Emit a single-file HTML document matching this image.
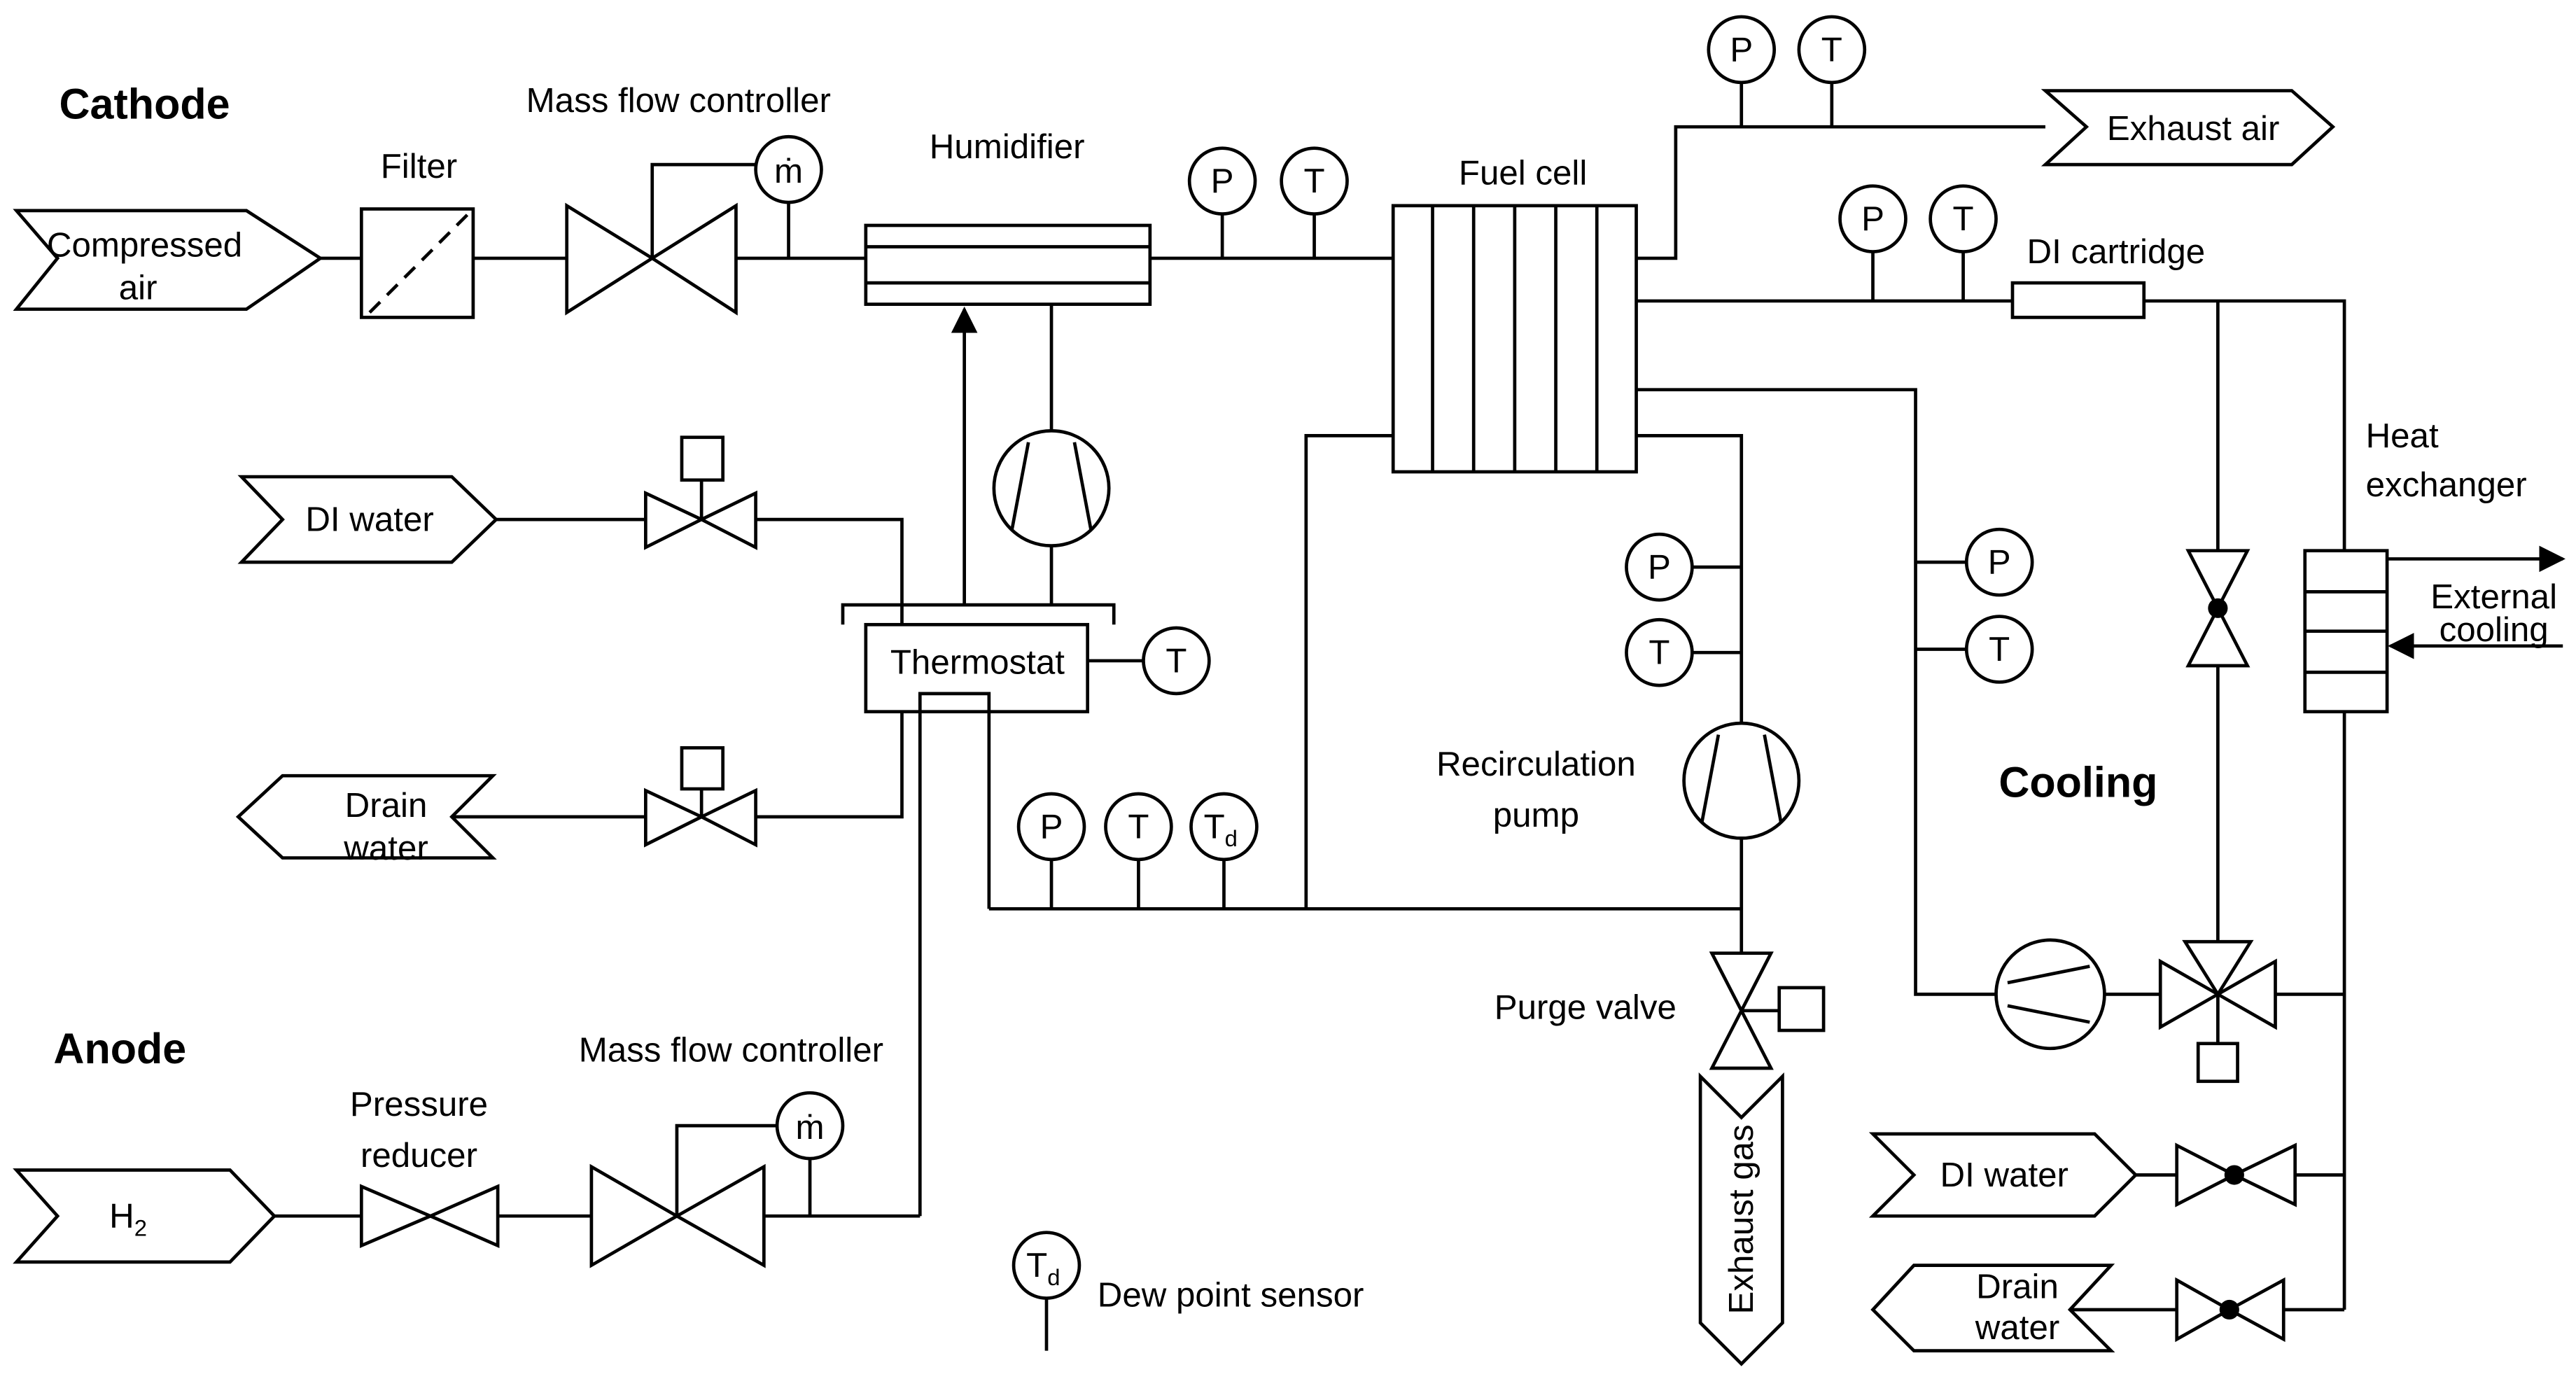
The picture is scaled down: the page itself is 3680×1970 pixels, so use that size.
<!DOCTYPE html>
<html><head><meta charset="utf-8"><style>
html,body{margin:0;padding:0;background:#fff;}
svg{display:block;}
text{font-family:"Liberation Sans",sans-serif;font-size:21px;fill:#000;text-anchor:middle;}
</style></head><body>
<svg width="3680" height="1970" viewBox="0 0 1568 839" xmlns="http://www.w3.org/2000/svg">
<defs><marker id="ah" viewBox="0 0 10 10" refX="9" refY="5" markerWidth="7" markerHeight="7" orient="auto" markerUnits="userSpaceOnUse"><path d="M0,0 L10,5 L0,10 z" fill="#000"/></marker>
<marker id="ah2" viewBox="0 0 10 10" refX="9" refY="5" markerWidth="16" markerHeight="16" orient="auto" markerUnits="userSpaceOnUse"><path d="M0,0 L10,5 L0,10 z" fill="#000"/></marker></defs>
<g fill="none" stroke="#000" stroke-width="2">
<!-- Cathode path -->
<polygon points="10,128 150,128 195,157 150,188 10,188 35,157" fill="#fff"/>
<line x1="195" y1="157" x2="220" y2="157"/>
<rect x="220" y="127" width="68" height="66"/>
<line x1="225" y1="190" x2="285" y2="130" stroke-dasharray="9,6"/>
<line x1="288" y1="157" x2="345" y2="157"/>
<polygon points="345,125 397,157 345,190"/><polygon points="448,125 397,157 448,190"/>
<polyline points="397,157 397,100 460,100"/>
<circle cx="480" cy="103" r="20"/><line x1="480" y1="123" x2="480" y2="157"/>
<line x1="448" y1="157" x2="527" y2="157"/>
<rect x="527" y="137" width="173" height="48"/><line x1="527" y1="150" x2="700" y2="150"/><line x1="527" y1="172" x2="700" y2="172"/>
<line x1="700" y1="157" x2="848" y2="157"/>
<circle cx="744" cy="110" r="20"/><line x1="744" y1="130" x2="744" y2="157"/>
<circle cx="800" cy="110" r="20"/><line x1="800" y1="130" x2="800" y2="157"/>
<!-- Fuel cell -->
<rect x="848" y="125" width="148" height="162"/>
<line x1="872" y1="125" x2="872" y2="287"/><line x1="897" y1="125" x2="897" y2="287"/><line x1="922" y1="125" x2="922" y2="287"/><line x1="947" y1="125" x2="947" y2="287"/><line x1="972" y1="125" x2="972" y2="287"/>
<polyline points="996,157 1020,157 1020,77 1245,77"/>
<circle cx="1060" cy="30" r="20"/><line x1="1060" y1="50" x2="1060" y2="77"/>
<circle cx="1115" cy="30" r="20"/><line x1="1115" y1="50" x2="1115" y2="77"/>
<polygon points="1245,55 1395,55 1420,77 1395,100 1245,100 1270,77"/>
<!-- Cooling loop -->
<line x1="996" y1="183" x2="1225" y2="183"/>
<rect x="1225" y="172" width="80" height="21"/>
<polyline points="1305,183 1427,183 1427,335"/>
<circle cx="1140" cy="133" r="20"/><line x1="1140" y1="153" x2="1140" y2="183"/>
<circle cx="1195" cy="133" r="20"/><line x1="1195" y1="153" x2="1195" y2="183"/>
<rect x="1403" y="335" width="50" height="98"/>
<line x1="1403" y1="360" x2="1453" y2="360"/><line x1="1403" y1="384" x2="1453" y2="384"/><line x1="1403" y1="409" x2="1453" y2="409"/>
<line x1="1453" y1="340" x2="1560" y2="340" marker-end="url(#ah2)"/>
<line x1="1560" y1="393" x2="1455" y2="393" marker-end="url(#ah2)"/>
<line x1="1350" y1="183" x2="1350" y2="335"/>
<polygon points="1332,335 1368,335 1350,370"/><polygon points="1332,405 1368,405 1350,370"/>
<line x1="1350" y1="405" x2="1350" y2="573"/>
<polygon points="1330,573 1370,573 1350,605"/>
<polygon points="1315,585 1315,625 1350,605"/><polygon points="1385,585 1385,625 1350,605"/>
<line x1="1350" y1="605" x2="1350" y2="635"/><rect x="1338" y="635" width="24" height="23"/>
<line x1="1385" y1="605" x2="1427" y2="605"/>
<line x1="1427" y1="433" x2="1427" y2="797"/>
<circle cx="1248" cy="605" r="33"/>
<line x1="1222" y1="598" x2="1272" y2="588"/><line x1="1222" y1="612" x2="1272" y2="622"/>
<line x1="1281" y1="605" x2="1315" y2="605"/>
<polyline points="996,237 1166,237 1166,605 1215,605"/>
<circle cx="1217" cy="342" r="20"/><line x1="1166" y1="342" x2="1197" y2="342"/>
<circle cx="1217" cy="395" r="20"/><line x1="1166" y1="395" x2="1197" y2="395"/>
<polygon points="1140,690 1275,690 1300,715 1275,740 1140,740 1165,715"/>
<line x1="1300" y1="715" x2="1325" y2="715"/>
<polygon points="1325,697 1360,715 1325,733"/><polygon points="1397,697 1360,715 1397,733"/>
<line x1="1397" y1="715" x2="1427" y2="715"/>
<polygon points="1140,797 1165,770 1285,770 1260,797 1285,822 1165,822"/>
<line x1="1260" y1="797" x2="1325" y2="797"/>
<polygon points="1325,779 1357,797 1325,815"/><polygon points="1390,779 1357,797 1390,815"/>
<line x1="1390" y1="797" x2="1427" y2="797"/>
<!-- Anode recirculation -->
<polyline points="996,265 1060,265 1060,440"/>
<circle cx="1010" cy="345" r="20"/><line x1="1030" y1="345" x2="1060" y2="345"/>
<circle cx="1010" cy="397" r="20"/><line x1="1030" y1="397" x2="1060" y2="397"/>
<circle cx="1060" cy="475" r="35"/>
<line x1="1046" y1="447" x2="1036" y2="500"/><line x1="1074" y1="447" x2="1084" y2="500"/>
<line x1="1060" y1="510" x2="1060" y2="580"/>
<polygon points="1042,580 1078,580 1060,615"/><polygon points="1042,650 1078,650 1060,615"/>
<line x1="1060" y1="615" x2="1083" y2="615"/><rect x="1083" y="601" width="27" height="26"/>
<polygon points="1035,655 1060,680 1085,655 1085,805 1060,830 1035,805"/>
<line x1="602" y1="553" x2="1060" y2="553"/>
<polyline points="848,265 795,265 795,553"/>
<circle cx="640" cy="503" r="20"/><line x1="640" y1="523" x2="640" y2="553"/>
<circle cx="693" cy="503" r="20"/><line x1="693" y1="523" x2="693" y2="553"/>
<circle cx="745" cy="503" r="20"/><line x1="745" y1="523" x2="745" y2="553"/>
<!-- Thermostat -->
<rect x="527" y="380" width="135" height="53"/>
<polyline points="513,380 513,368 678,368 678,380"/>
<circle cx="716" cy="402" r="20"/><line x1="662" y1="402" x2="696" y2="402"/>
<line x1="587" y1="368" x2="587" y2="188" marker-end="url(#ah2)"/>
<line x1="640" y1="185" x2="640" y2="262"/>
<circle cx="640" cy="297" r="35"/>
<line x1="626" y1="269" x2="616" y2="322"/><line x1="654" y1="269" x2="664" y2="322"/>
<line x1="640" y1="332" x2="640" y2="368"/>
<polyline points="560,740 560,422 602,422 602,553"/>
<polygon points="147,290 275,290 302,316 275,342 147,342 172,316"/>
<line x1="302" y1="316" x2="393" y2="316"/>
<polygon points="393,300 427,316 393,333"/><polygon points="460,300 427,316 460,333"/>
<line x1="427" y1="316" x2="427" y2="292"/><rect x="415" y="266" width="25" height="26"/>
<polyline points="460,316 549,316 549,380"/>
<polygon points="145,497 172,472 300,472 275,497 300,522 172,522"/>
<line x1="275" y1="497" x2="393" y2="497"/>
<polygon points="393,481 427,497 393,514"/><polygon points="460,481 427,497 460,514"/>
<line x1="427" y1="497" x2="427" y2="480"/><rect x="415" y="455" width="25" height="25"/>
<polyline points="460,497 549,497 549,433"/>
<!-- Anode supply -->
<polygon points="10,712 140,712 167,740 140,768 10,768 35,740"/>
<line x1="167" y1="740" x2="220" y2="740"/>
<polygon points="220,722 262,740 220,758"/><polygon points="303,722 262,740 303,758"/>
<line x1="303" y1="740" x2="360" y2="740"/>
<polygon points="360,710 412,740 360,770"/><polygon points="465,710 412,740 465,770"/>
<polyline points="412,740 412,685 473,685"/>
<circle cx="493" cy="685" r="20"/><line x1="493" y1="705" x2="493" y2="740"/>
<line x1="465" y1="740" x2="560" y2="740"/>
<circle cx="637" cy="770" r="20"/><line x1="637" y1="790" x2="637" y2="822"/>
</g>
<g fill="#000">
<circle cx="1350" cy="370" r="6"/><circle cx="1360" cy="715" r="6"/><circle cx="1357" cy="797" r="6"/>
</g>
<g>
<text x="88" y="72" style="font-weight:bold;font-size:26px">Cathode</text>
<text x="73" y="647" style="font-weight:bold;font-size:26px">Anode</text>
<text x="1265" y="485" style="font-weight:bold;font-size:26px">Cooling</text>
<text x="88" y="156">Compressed</text><text x="84" y="182">air</text>
<text x="255" y="108">Filter</text>
<text x="413" y="68">Mass flow controller</text>
<text x="480" y="111">ṁ</text>
<text x="613" y="96">Humidifier</text>
<text x="744" y="117">P</text><text x="800" y="117">T</text>
<text x="927" y="112">Fuel cell</text>
<text x="1060" y="37">P</text><text x="1115" y="37">T</text>
<text x="1335" y="85">Exhaust air</text>
<text x="1140" y="140">P</text><text x="1195" y="140">T</text>
<text x="1288" y="160">DI cartridge</text>
<text x="1440" y="272" style="text-anchor:start">Heat</text>
<text x="1440" y="302" style="text-anchor:start">exchanger</text>
<text x="1518" y="370">External</text><text x="1518" y="390">cooling</text>
<text x="1217" y="349">P</text><text x="1217" y="402">T</text>
<text x="1220" y="722">DI water</text>
<text x="1228" y="790">Drain</text><text x="1228" y="815">water</text>
<text x="1010" y="352">P</text><text x="1010" y="404">T</text>
<text x="935" y="472">Recirculation</text><text x="935" y="503">pump</text>
<text x="965" y="620">Purge valve</text>
<text transform="translate(1067,742) rotate(-90)">Exhaust gas</text>
<text x="640" y="510">P</text><text x="693" y="510">T</text>
<text x="743" y="510">T<tspan style="font-size:14px" dy="5">d</tspan></text>
<text x="595" y="410">Thermostat</text>
<text x="716" y="409">T</text>
<text x="225" y="323">DI water</text>
<text x="235" y="497">Drain</text><text x="235" y="523">water</text>
<text x="78" y="747">H<tspan style="font-size:14px" dy="5">2</tspan></text>
<text x="255" y="679">Pressure</text><text x="255" y="710">reducer</text>
<text x="445" y="646">Mass flow controller</text>
<text x="493" y="693">ṁ</text>
<text x="635" y="777">T<tspan style="font-size:14px" dy="5">d</tspan></text>
<text x="668" y="795" style="text-anchor:start">Dew point sensor</text>
</g>
</svg>
</body></html>
